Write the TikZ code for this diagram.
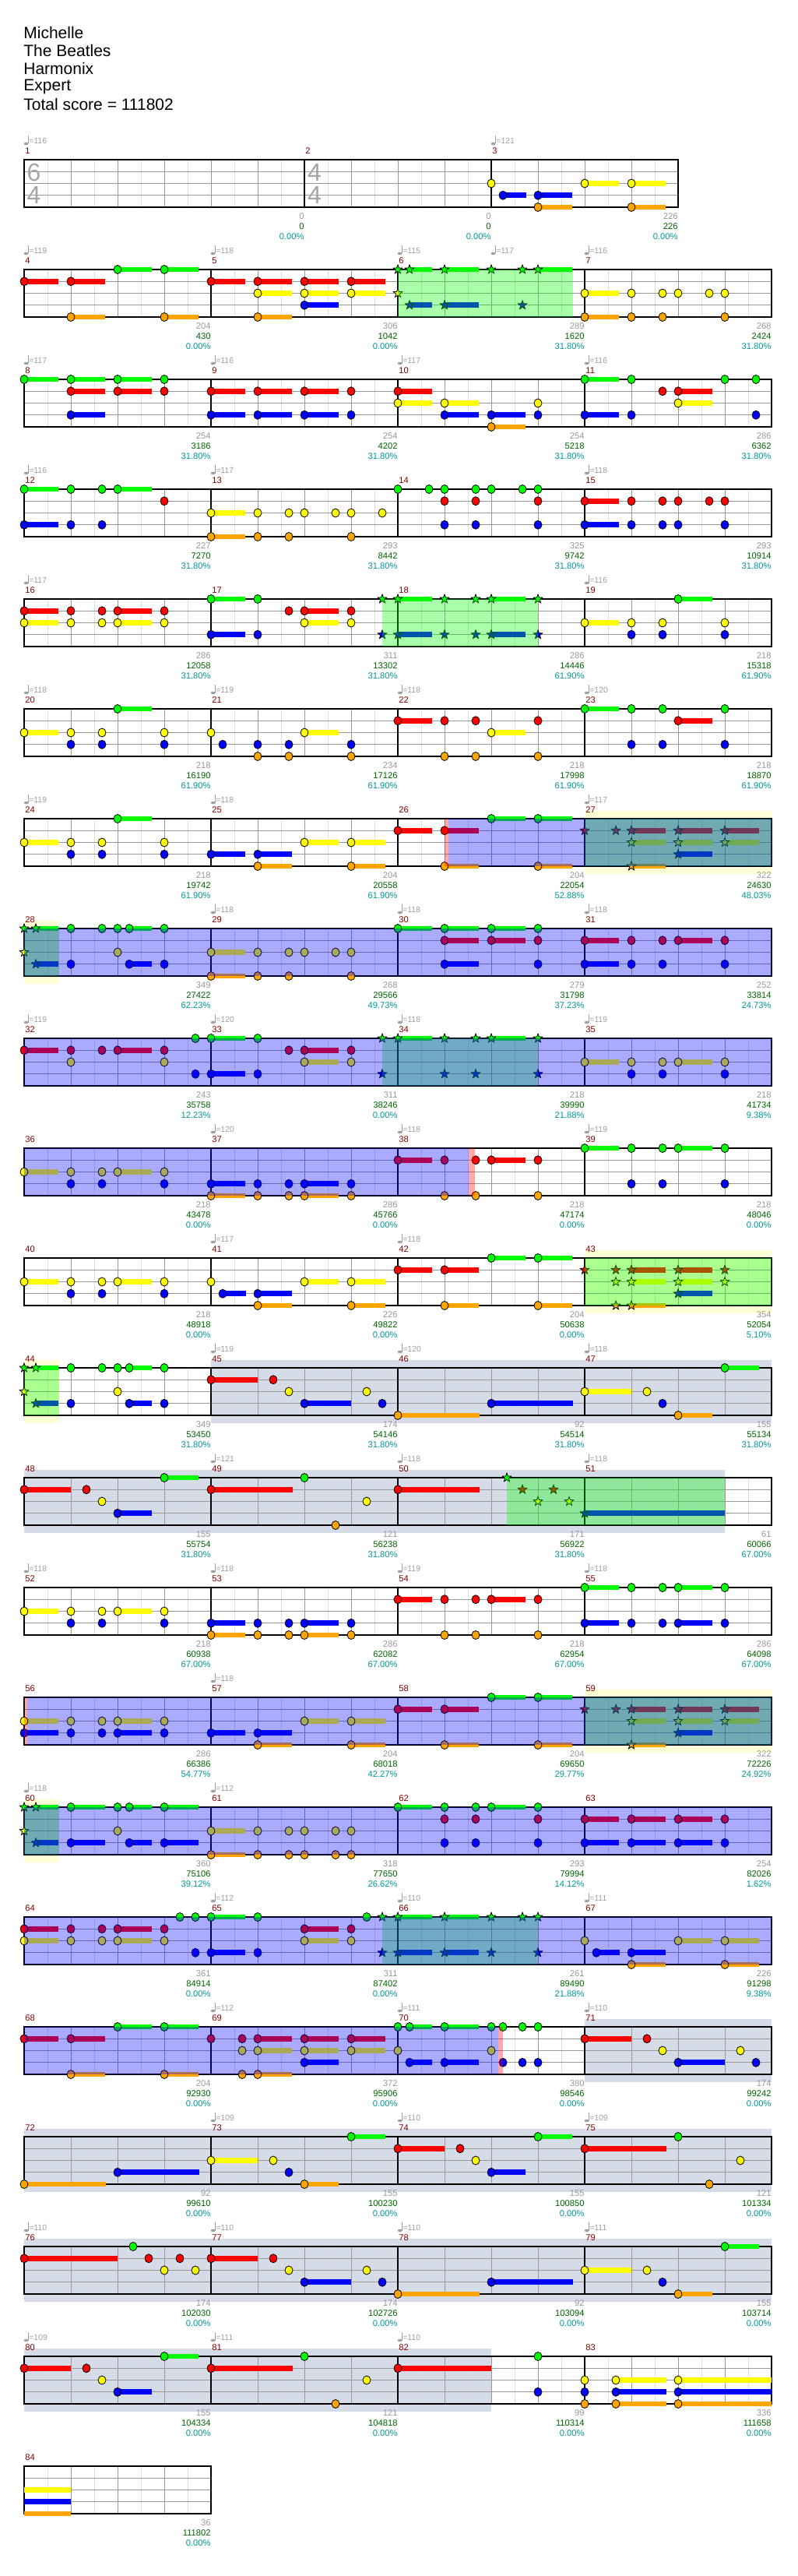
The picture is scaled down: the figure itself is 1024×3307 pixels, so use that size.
\documentclass[tikz,border=0pt]{standalone}
\usepackage{fontspec}
\setmainfont{Liberation Sans}
\newfontfamily\labf{Liberation Sans}
\definecolor{L0}{HTML}{00FF00}
\definecolor{L1}{HTML}{FF0000}
\definecolor{L2}{HTML}{FFFF00}
\definecolor{L3}{HTML}{0000FF}
\definecolor{L4}{HTML}{FFA500}
\definecolor{hbc}{HTML}{DDDDDD}
\definecolor{btc}{HTML}{999999}
\definecolor{mncol}{HTML}{8B0000}
\definecolor{tpcol}{HTML}{A0A0A0}
\definecolor{bccol}{HTML}{999999}
\definecolor{sccol}{HTML}{006400}
\definecolor{pccol}{HTML}{009999}
\definecolor{ybcol}{HTML}{FFFFD6}
\definecolor{grcol}{HTML}{D5DCE8}
\definecolor{tscol}{HTML}{A6A6A6}
\tikzset{
 hbl/.style={draw=hbc, line width=0.5pt},
 btl/.style={draw=btc, line width=0.5pt},
 blk/.style={draw=black, line width=0.65pt},
 mnst/.style={anchor=west, inner sep=0pt, text=mncol, font=\labf\fontsize{5.6}{6}\selectfont},
 tpst/.style={anchor=west, inner sep=0pt, text=tpcol, font=\labf\fontsize{5.2}{6}\selectfont},
 bcst/.style={anchor=east, inner sep=0pt, text=bccol, font=\labf\fontsize{5.6}{6}\selectfont},
 scst/.style={anchor=east, inner sep=0pt, text=sccol, font=\labf\fontsize{5.6}{6}\selectfont},
 pcst/.style={anchor=east, inner sep=0pt, text=pccol, font=\labf\fontsize{5.6}{6}\selectfont},
 ttl/.style={anchor=west, inner sep=0pt, text=black, font=\labf\fontsize{10.5}{12}\selectfont},
 tsg/.style={inner sep=0pt, text=tscol, font=\labf\fontsize{16}{18}\selectfont},
}
\newcommand\setrow[1]{\pgfmathsetmacro\T{205+141*#1}}
\newcommand\xnt[3]{%
  \pgfmathsetmacro\nx{#1}\pgfmathsetmacro\ny{\T+15.25*#2}%
  \ifdim #3pt>0pt \fill[L#2] (\nx,\ny-3.4) rectangle ({\nx+#3},\ny+3.4);\fi
  \filldraw[fill=L#2,draw=black,line width=0.4pt] (\nx,\ny) ellipse [x radius=2.5pt, y radius=2.75pt];}
\newcommand\xstn[3]{%
  \pgfmathsetmacro\nx{#1}\pgfmathsetmacro\ny{\T+15.25*#2}%
  \ifdim #3pt>0pt \fill[L#2] (\nx,\ny-3.4) rectangle ({\nx+#3},\ny+3.4);\fi
  \filldraw[fill=L#2,draw=black,line width=0.4pt,line join=miter] (\nx,\ny) +(90:3pt) -- +(126:1.25pt) -- +(162:3pt) -- +(198:1.25pt) -- +(234:3pt) -- +(270:1.25pt) -- +(306:3pt) -- +(342:1.25pt) -- +(18:3pt) -- +(54:1.25pt) -- cycle;}
\newcommand\xM[2]{\foreach \pb/\pl/\ps in {#2}{\xnt{#1+60*\pb}{\pl}{\ps}}}
\newcommand\xMs[2]{\foreach \pb/\pl/\ps in {#2}{\xstn{#1+60*\pb}{\pl}{\ps}}}
\newcommand\xgrid[2]{%
  \foreach \k in {1,...,#2}{\draw[hbl] ({#1+60*\k-30},\T) -- ++(0,61);}
  \foreach \k in {1,...,#2}{\draw[btl] ({#1+60*\k},\T) -- ++(0,61);}}
\newcommand\xlanes[2]{\foreach \k in {1,2,3}{\draw[btl] (#1,{\T+15.25*\k}) -- (#2,{\T+15.25*\k});}}
\newcommand\stdrow{\xgrid{31}{4}\xgrid{271}{4}\xgrid{511}{4}\xgrid{751}{4}\xlanes{31}{991}%
  \foreach \x in {271,511,751}{\draw[blk] (\x,\T) -- ++(0,61);}\draw[blk] (31,\T) rectangle (991,\T+61);}
\newcommand\xSP[2]{\fill[green,fill opacity=0.333] (#1,\T) rectangle (#2,\T+61);}
\newcommand\xOD[2]{\fill[blue,fill opacity=0.333] (#1,\T) rectangle (#2,\T+61);}
\newcommand\xRS[2]{\fill[red,fill opacity=0.333] (#1,\T) rectangle (#2,\T+61);}
\newcommand\xYB[2]{\fill[ybcol] (#1,\T-10) rectangle (#2,\T+71);}
\newcommand\xGR[2]{\fill[grcol] (#1,\T-10) rectangle (#2,\T+71);}
\newcommand\xmn[2]{\node[mnst] at (#1+1,\T-11) {#2};}
\newcommand\xmns[4]{\xmn{31}{#1}\xmn{271}{#2}\xmn{511}{#3}\xmn{751}{#4}}
\newcommand\xtp[2]{\fill[tpcol] (#1+2.6,\T-20.5) ellipse [x radius=1.4pt, y radius=0.9pt];
  \draw[tpcol,line width=0.45pt] (#1+5,\T-20.5) -- (#1+5,\T-31);
  \node[tpst] at (#1+6,\T-24) {=#2};}
\newcommand\xscr[4]{\node[bcst] at (#1,\T+73) {#2};\node[scst] at (#1,\T+86) {#3};\node[pcst] at (#1,\T+99) {#4};}
\begin{document}
\begin{tikzpicture}[x=0.5pt,y=-0.5pt]
\useasboundingbox (0,0) rectangle (1024,3307);
\fill[white] (0,0) rectangle (1024,3307);
% title
\node[ttl] (t1) at (30,42) {Michelle};
\node[ttl] (t2) at (30,65) {The Beatles};
\node[ttl] (t3) at (30,88) {Harmonix};
\node[ttl] (t4) at (30,111) {Expert};
\node[ttl] (t5) at (30,134) {Total score = 111802};
% ---------- row 0
\setrow{0}
\xgrid{31}{6}\xgrid{391}{4}\xgrid{631}{4}\xlanes{31}{871}
\foreach \x in {391,631}{\draw[blk] (\x,\T) -- ++(0,61);}
\draw[blk] (31,\T) rectangle (871,\T+61);
\node[tsg] at (43.5,221) {6};\node[tsg] at (43.5,250) {4};
\node[tsg] at (404,221) {4};\node[tsg] at (404,250) {4};
\xM{631}{0/2/0,0.25/3/30,1/3/44,1/4/44,2/2/44,3/2/44,3/4/44}
\xmn{31}{1}\xmn{391}{2}\xmn{631}{3}
\xtp{31}{116}\xtp{631}{121}
\xscr{391}{0}{0}{0.00\%}\xscr{631}{0}{0}{0.00\%}\xscr{871}{226}{226}{0.00\%}
% ---------- row 1
\setrow{1}
\stdrow
\xM{31}{0/1/44,1/1/44,2/0/44,3/0/44,1/4/44,3/4/44}
\xM{271}{0/1/44,1/1/44,2/1/44,3/1/44,1/2/44,2/2/44,3/2/44,2/3/44,1/4/44}
\xMs{511}{0/0/0,0.25/0/29,1/0/44,2/0/0,2.667/0/0,3/0/44,0/2/0,0.25/3/29,1/3/44,2.667/3/0}
\xM{751}{0/2/44,1/2/0,1.667/2/0,2/2/0,2.667/2/0,3/2/0,0/4/44,1/4/0,1.667/4/0,3/4/0}
\xSP{511}{736}
\xmns{4}{5}{6}{7}
\xtp{31}{119}\xtp{271}{118}\xtp{511}{115}\xtp{631}{117}\xtp{751}{116}
\xscr{271}{204}{430}{0.00\%}\xscr{511}{306}{1042}{0.00\%}\xscr{751}{289}{1620}{31.80\%}\xscr{991}{268}{2424}{31.80\%}
% ---------- row 2
\setrow{2}
\stdrow
\xM{31}{0/0/44,1/0/44,2/0/44,3/0/0,1/1/44,2/1/44,3/1/0,1/3/44}
\xM{271}{0/1/44,1/1/44,2/1/44,3/1/0,0/3/44,1/3/44,2/3/44,3/3/0}
\xM{511}{0/1/44,0/2/44,1/2/44,3/2/0,1/3/44,2/3/44,3/3/0,2/4/44}
\xM{751}{0/0/44,1/0/0,3/0/0,3.667/0/0,1.667/1/0,2/1/44,2/2/44,0/3/44,1/3/0,3.667/3/0}
\xmns{8}{9}{10}{11}
\xtp{31}{117}\xtp{271}{116}\xtp{511}{117}\xtp{751}{116}
\xscr{271}{254}{3186}{31.80\%}\xscr{511}{254}{4202}{31.80\%}\xscr{751}{254}{5218}{31.80\%}\xscr{991}{286}{6362}{31.80\%}
% ---------- row 3
\setrow{3}
\stdrow
\xM{31}{0/0/44,1/0/0,1.667/0/0,2/0/44,3/1/0,0/3/44,1/3/0,1.667/3/0}
\xM{271}{0/2/44,1/2/0,1.667/2/0,2/2/0,2.667/2/0,3/2/0,3.667/2/0,0/4/44,1/4/0,1.667/4/0,3/4/0}
\xM{511}{0/0/0,0.667/0/0,1/0/0,1.667/0/0,2/0/0,2.667/0/0,3/0/0,1/1/0,1.667/1/0,3/1/0,1/3/0,1.667/3/0,3/3/0}
\xM{751}{0/1/44,1/1/0,1.667/1/0,2/1/0,2.667/1/0,3/1/0,0/3/44,1/3/0,1.667/3/0,2/3/0,3/3/0}
\xmns{12}{13}{14}{15}
\xtp{31}{116}\xtp{271}{117}\xtp{751}{118}
\xscr{271}{227}{7270}{31.80\%}\xscr{511}{293}{8442}{31.80\%}\xscr{751}{325}{9742}{31.80\%}\xscr{991}{293}{10914}{31.80\%}
% ---------- row 4
\setrow{4}
\stdrow
\xM{31}{0/1/44,1/1/0,1.667/1/0,2/1/44,3/1/0,0/2/44,1/2/0,1.667/2/0,2/2/44,3/2/0}
\xM{271}{0/0/44,1/0/0,1.667/1/0,2/1/44,3/1/0,2/2/44,3/2/0,0/3/44,1/3/0}
\xMs{271}{3.667/0/0,3.667/3/0}
\xMs{511}{0/0/44,1/0/0,1.667/0/0,2/0/44,3/0/0,0/3/44,1/3/0,1.667/3/0,2/3/44,3/3/0}
\xM{751}{2/0/44,0/2/44,1/2/0,1.667/2/0,3/2/0,1/3/0,1.667/3/0,3/3/0}
\xSP{491}{691}
\xmns{16}{17}{18}{19}
\xtp{31}{117}\xtp{751}{116}
\xscr{271}{286}{12058}{31.80\%}\xscr{511}{311}{13302}{31.80\%}\xscr{751}{286}{14446}{61.90\%}\xscr{991}{218}{15318}{61.90\%}
% ---------- row 5
\setrow{5}
\stdrow
\xM{31}{2/0/44,0/2/44,1/2/0,1.667/2/0,3/2/0,1/3/0,1.667/3/0,3/3/0}
\xM{271}{0/2/0,2/2/44,0.25/3/0,1/3/0,1.667/3/0,3/3/0,1/4/0,1.667/4/0,3/4/0}
\xM{511}{0/1/44,1/1/0,1.667/1/0,3/1/0,2/2/44,1/4/0,1.667/4/0,3/4/0}
\xM{751}{0/0/44,1/0/0,1.667/0/0,3/0/0,2/1/44,1/3/0,1.667/3/0,3/3/0}
\xmns{20}{21}{22}{23}
\xtp{31}{118}\xtp{271}{119}\xtp{511}{118}\xtp{751}{120}
\xscr{271}{218}{16190}{61.90\%}\xscr{511}{234}{17126}{61.90\%}\xscr{751}{218}{17998}{61.90\%}\xscr{991}{218}{18870}{61.90\%}
% ---------- row 6
\setrow{6}
\xYB{751}{991}
\stdrow
\xM{31}{2/0/44,0/2/44,1/2/0,1.667/2/0,3/2/0,1/3/0,1.667/3/0,3/3/0}
\xM{271}{2/2/44,3/2/44,0/3/44,1/3/44,1/4/44,3/4/44}
\xM{511}{0/1/44,1/1/44,2/0/44,3/0/44,1/4/44,3/4/44}
\xMs{751}{0/1/0,0.667/1/0,1/1/44,2/1/44,3/1/44,1/2/44,2/2/44,3/2/44,2/3/44,1/4/44}
\xSP{751}{991}\xOD{576}{991}\xRS{571}{576}
\xmns{24}{25}{26}{27}
\xtp{31}{119}\xtp{271}{118}\xtp{751}{117}
\xscr{271}{218}{19742}{61.90\%}\xscr{511}{204}{20558}{61.90\%}\xscr{751}{204}{22054}{52.88\%}\xscr{991}{322}{24630}{48.03\%}
% ---------- row 7
\setrow{7}
\xYB{31}{76}
\stdrow
\xMs{31}{0/0/0,0.25/0/29,0/2/0,0.25/3/29}
\xM{31}{1/0/0,1.667/0/0,2/0/0,2.25/0/29,3/0/0,2/2/0,1/3/0,2.25/3/29,3/3/0}
\xM{271}{0/2/44,1/2/0,1.667/2/0,2/2/0,2.667/2/0,3/2/0,0/4/44,1/4/0,1.667/4/0,3/4/0}
\xM{511}{0/0/44,1/0/44,2/0/44,3/0/0,1/1/44,2/1/44,3/1/0,1/3/44,3/3/0}
\xM{751}{0/1/44,1/1/0,1.667/1/0,2/1/44,3/1/0,0/3/44,1/3/0,1.667/3/0,3/3/0}
\xSP{31}{76}\xOD{31}{991}
\xmns{28}{29}{30}{31}
\xtp{271}{118}\xtp{511}{118}\xtp{751}{118}
\xscr{271}{349}{27422}{62.23\%}\xscr{511}{268}{29566}{49.73\%}\xscr{751}{279}{31798}{37.23\%}\xscr{991}{252}{33814}{24.73\%}
% ---------- row 8
\setrow{8}
\stdrow
\xM{31}{0/1/44,1/1/0,1.667/1/0,2/1/44,3/1/0,1/2/0,3/2/0,3.667/0/0,3.667/3/0}
\xM{271}{0/0/44,1/0/0,1.667/1/0,2/1/44,3/1/0,2/2/44,3/2/0,0/3/44,1/3/0}
\xMs{271}{3.667/0/0,3.667/3/0}
\xMs{511}{0/0/44,1/0/0,1.667/0/0,2/0/44,3/0/0,1/3/0,1.667/3/0,3/3/0}
\xM{751}{0/2/44,1/2/0,1.667/2/0,2/2/44,3/2/0,1/3/0,1.667/3/0,3/3/0}
\xSP{491}{691}\xOD{31}{991}
\xmns{32}{33}{34}{35}
\xtp{31}{119}\xtp{271}{120}\xtp{511}{118}\xtp{751}{119}
\xscr{271}{243}{35758}{12.23\%}\xscr{511}{311}{38246}{0.00\%}\xscr{751}{218}{39990}{21.88\%}\xscr{991}{218}{41734}{9.38\%}
% ---------- row 9
\setrow{9}
\stdrow
\xM{31}{0/2/44,1/2/0,1.667/2/0,2/2/44,3/2/0,1/3/0,1.667/3/0,3/3/0}
\xM{271}{0/3/44,1/3/0,1.667/3/0,2/3/44,3/3/0,0/4/44,1/4/0,1.667/4/0,2/4/44,3/4/0}
\xM{511}{0/1/44,1/1/0,1.667/1/0,2/1/44,3/1/0,1/4/0,1.667/4/0,3/4/0}
\xM{751}{0/0/44,1/0/0,1.667/0/0,2/0/44,3/0/0,1/3/0,1.667/3/0,3/3/0}
\xOD{31}{602}\xRS{602}{610}
\xmns{36}{37}{38}{39}
\xtp{271}{120}\xtp{511}{118}\xtp{751}{119}
\xscr{271}{218}{43478}{0.00\%}\xscr{511}{286}{45766}{0.00\%}\xscr{751}{218}{47174}{0.00\%}\xscr{991}{218}{48046}{0.00\%}
% ---------- row 10
\setrow{10}
\xYB{751}{991}
\stdrow
\xM{31}{0/2/44,1/2/0,1.667/2/0,2/2/44,3/2/0,1/3/0,1.667/3/0,3/3/0}
\xM{271}{0/2/0,2/2/44,3/2/44,0.25/3/30,1/3/44,1/4/44,3/4/44}
\xM{511}{2/0/44,3/0/44,0/1/44,1/1/44,1/4/44,3/4/44}
\xMs{751}{0/1/0,0.667/1/0,1/1/44,2/1/44,3/1/0,0.667/2/0,1/2/44,2/2/44,3/2/0,2/3/44,0.667/4/0,1/4/44}
\xSP{751}{991}
\xmns{40}{41}{42}{43}
\xtp{271}{117}\xtp{511}{118}
\xscr{271}{218}{48918}{0.00\%}\xscr{511}{226}{49822}{0.00\%}\xscr{751}{204}{50638}{0.00\%}\xscr{991}{354}{52054}{5.10\%}
% ---------- row 11
\setrow{11}
\xYB{31}{76}\xGR{271}{991}
\stdrow
\xMs{31}{0/0/0,0.25/0/29,0/2/0,0.25/3/29}
\xM{31}{1/0/0,1.667/0/0,2/0/0,2.25/0/29,3/0/0,2/2/0,1/3/0,2.25/3/29,3/3/0}
\xM{271}{0/1/60,1.333/1/0,1.667/2/0,3.333/2/0,2/3/60,3.667/3/0}
\xM{511}{0/4/105,2/3/105}
\xM{751}{0/2/60,1.333/2/0,1.667/3/0,2/4/44,3/0/44}
\xSP{31}{76}
\xmns{44}{45}{46}{47}
\xtp{271}{119}\xtp{511}{120}\xtp{751}{118}
\xscr{271}{349}{53450}{31.80\%}\xscr{511}{174}{54146}{31.80\%}\xscr{751}{92}{54514}{31.80\%}\xscr{991}{155}{55134}{31.80\%}
% ---------- row 12
\setrow{12}
\xGR{31}{931}
\stdrow
\xM{31}{0/1/60,1.333/1/0,1.667/2/0,2/3/44,3/0/44}
\xM{271}{0/1/105,2/0/0,3.333/2/0,2.667/4/0}
\xM{511}{0/1/105}
\xMs{511}{2.333/0/0,2.667/1/0,3.333/1/0,3/2/0,3.667/2/0}
\xMs{751}{0/3/180}
\xSP{651}{931}
\xmns{48}{49}{50}{51}
\xtp{271}{121}\xtp{511}{118}\xtp{751}{118}
\xscr{271}{155}{55754}{31.80\%}\xscr{511}{121}{56238}{31.80\%}\xscr{751}{171}{56922}{31.80\%}\xscr{991}{61}{60066}{67.00\%}
% ---------- row 13
\setrow{13}
\stdrow
\xM{31}{0/2/44,1/2/0,1.667/2/0,2/2/44,3/2/0,1/3/0,1.667/3/0,3/3/0}
\xM{271}{0/3/44,1/3/0,1.667/3/0,2/3/44,3/3/0,0/4/44,1/4/0,1.667/4/0,2/4/44,3/4/0}
\xM{511}{0/1/44,1/1/0,1.667/1/0,2/1/44,3/1/0,1/4/0,1.667/4/0,3/4/0}
\xM{751}{0/0/44,1/0/0,1.667/0/0,2/0/44,3/0/0,0/3/44,1/3/0,1.667/3/0,2/3/44,3/3/0}
\xmns{52}{53}{54}{55}
\xtp{31}{118}\xtp{271}{118}\xtp{511}{119}\xtp{751}{118}
\xscr{271}{218}{60938}{67.00\%}\xscr{511}{286}{62082}{67.00\%}\xscr{751}{218}{62954}{67.00\%}\xscr{991}{286}{64098}{67.00\%}
% ---------- row 14
\setrow{14}
\xYB{751}{991}
\stdrow
\xM{31}{0/2/44,1/2/0,1.667/2/0,2/2/44,3/2/0,0/3/44,1/3/0,1.667/3/0,2/3/44,3/3/0}
\xM{271}{2/2/44,3/2/44,0/3/44,1/3/44,1/4/44,3/4/44}
\xM{511}{0/1/44,1/1/44,2/0/44,3/0/44,1/4/44,3/4/44}
\xMs{751}{0/1/0,0.667/1/0,1/1/44,2/1/44,3/1/44,1/2/44,2/2/44,3/2/44,2/3/44,1/4/44}
\xSP{751}{991}\xOD{35}{991}\xRS{31}{35}
\xmns{56}{57}{58}{59}
\xtp{271}{118}
\xscr{271}{286}{66386}{54.77\%}\xscr{511}{204}{68018}{42.27\%}\xscr{751}{204}{69650}{29.77\%}\xscr{991}{322}{72226}{24.92\%}
% ---------- row 15
\setrow{15}
\xYB{31}{76}
\stdrow
\xMs{31}{0/0/0,0.25/0/29,0/2/0,0.25/3/29}
\xM{31}{1/0/44,2/0/0,2.25/0/29,3/0/44,2/2/0,1/3/44,2.25/3/29,3/3/44}
\xM{271}{0/2/44,1/2/0,1.667/2/0,2/2/0,2.667/2/0,3/2/0,0/4/44,1/4/0,1.667/4/0,2/4/0,2.667/4/0,3/4/0}
\xM{511}{0/0/44,1/0/0,1.667/0/0,2/0/44,3/0/0,1/1/0,1.667/1/0,3/1/0,1/3/0,1.667/3/0,3/3/0}
\xM{751}{0/1/44,1/1/44,2/1/44,3/1/0,0/3/44,1/3/44,2/3/44,3/3/0}
\xSP{31}{76}\xOD{31}{991}
\xmns{60}{61}{62}{63}
\xtp{31}{118}\xtp{271}{112}
\xscr{271}{360}{75106}{39.12\%}\xscr{511}{318}{77650}{26.62\%}\xscr{751}{293}{79994}{14.12\%}\xscr{991}{254}{82026}{1.62\%}
% ---------- row 16
\setrow{16}
\stdrow
\xM{31}{0/1/44,1/1/0,1.667/1/0,2/1/44,3/1/0,0/2/44,1/2/0,1.667/2/0,2/2/44,3/2/0,3.333/0/0,3.667/0/0,3.667/3/0}
\xM{271}{0/0/44,1/0/0,2/1/44,3/1/0,2/2/44,3/2/0,0/3/44,1/3/0,3.333/0/0}
\xMs{271}{3.667/0/0,3.667/3/0}
\xMs{511}{0/0/44,1/0/44,2/0/0,2.667/0/0,3/0/0,0/3/44,1/3/44,2/3/0,3/3/0}
\xM{751}{0/2/0,2/2/44,3/2/44,0.25/3/30,1/3/44,1/4/44,3/4/44}
\xSP{491}{691}\xOD{31}{991}
\xmns{64}{65}{66}{67}
\xtp{271}{112}\xtp{511}{110}\xtp{751}{111}
\xscr{271}{361}{84914}{0.00\%}\xscr{511}{311}{87402}{0.00\%}\xscr{751}{261}{89490}{21.88\%}\xscr{991}{226}{91298}{9.38\%}
% ---------- row 17
\setrow{17}
\xGR{751}{991}
\stdrow
\xM{31}{2/0/44,3/0/44,0/1/44,1/1/44,1/4/44,3/4/44}
\xM{271}{0/1/0,0.667/1/0,1/1/44,2/1/44,3/1/44,0.667/2/0,1/2/44,2/2/44,3/2/44,2/3/44,0.667/4/0,1/4/44}
\xM{511}{0/0/0,0.25/0/29,1/0/44,2/0/0,2.25/0/0,2.667/0/0,3/0/0,0/2/0,2/2/0,0.25/3/29,1/3/44,2.25/3/0,2.667/3/0,3/3/0}
\xM{751}{0/1/60,1.333/1/0,1.667/2/0,3.333/2/0,2/3/60,3.667/3/0}
\xOD{31}{640}\xRS{640}{646}
\xmns{68}{69}{70}{71}
\xtp{271}{112}\xtp{511}{111}\xtp{751}{110}
\xscr{271}{204}{92930}{0.00\%}\xscr{511}{372}{95906}{0.00\%}\xscr{751}{380}{98546}{0.00\%}\xscr{991}{174}{99242}{0.00\%}
% ---------- row 18
\setrow{18}
\xGR{31}{991}
\stdrow
\xM{31}{0/4/105,2/3/105}
\xM{271}{0/2/60,1.333/2/0,1.667/3/0,2/4/44,3/0/44}
\xM{511}{0/1/60,1.333/1/0,1.667/2/0,2/3/44,3/0/44}
\xM{751}{0/1/105,2/0/0,3.333/2/0,2.667/4/0}
\xmns{72}{73}{74}{75}
\xtp{271}{109}\xtp{511}{110}\xtp{751}{109}
\xscr{271}{92}{99610}{0.00\%}\xscr{511}{155}{100230}{0.00\%}\xscr{751}{155}{100850}{0.00\%}\xscr{991}{121}{101334}{0.00\%}
% ---------- row 19
\setrow{19}
\xGR{31}{991}
\stdrow
\xM{31}{0/1/120,2.333/0/0,2.667/1/0,3.333/1/0,3/2/0,3.667/2/0}
\xM{271}{0/1/60,1.333/1/0,1.667/2/0,3.333/2/0,2/3/60,3.667/3/0}
\xM{511}{0/4/105,2/3/105}
\xM{751}{0/2/60,1.333/2/0,1.667/3/0,2/4/44,3/0/44}
\xmns{76}{77}{78}{79}
\xtp{31}{110}\xtp{271}{110}\xtp{511}{110}\xtp{751}{111}
\xscr{271}{174}{102030}{0.00\%}\xscr{511}{174}{102726}{0.00\%}\xscr{751}{92}{103094}{0.00\%}\xscr{991}{155}{103714}{0.00\%}
% ---------- row 20
\setrow{20}
\xGR{31}{631}
\stdrow
\xM{31}{0/1/60,1.333/1/0,1.667/2/0,2/3/44,3/0/44}
\xM{271}{0/1/105,2/0/0,3.333/2/0,2.667/4/0}
\xM{511}{0/1/120,3/0/0,3/3/0}
\xM{751}{0/2/0,0.667/2/65,2/2/120,0/3/0,0.667/3/65,2/3/120,0/4/0,0.667/4/65,2/4/120}
\xmns{80}{81}{82}{83}
\xtp{31}{109}\xtp{271}{111}\xtp{511}{110}
\xscr{271}{155}{104334}{0.00\%}\xscr{511}{121}{104818}{0.00\%}\xscr{751}{99}{110314}{0.00\%}\xscr{991}{336}{111658}{0.00\%}
% ---------- row 21
\setrow{21}
\xgrid{31}{4}\xlanes{31}{271}
\draw[blk] (31,\T) rectangle (271,\T+61);
\foreach \k in {2,3,4}{\fill[L\k] (31,{\T+15.25*\k-3.4}) rectangle (91,{\T+15.25*\k+3.4});}
\xmn{31}{84}
\xscr{271}{36}{111802}{0.00\%}
\end{tikzpicture}
\end{document}
